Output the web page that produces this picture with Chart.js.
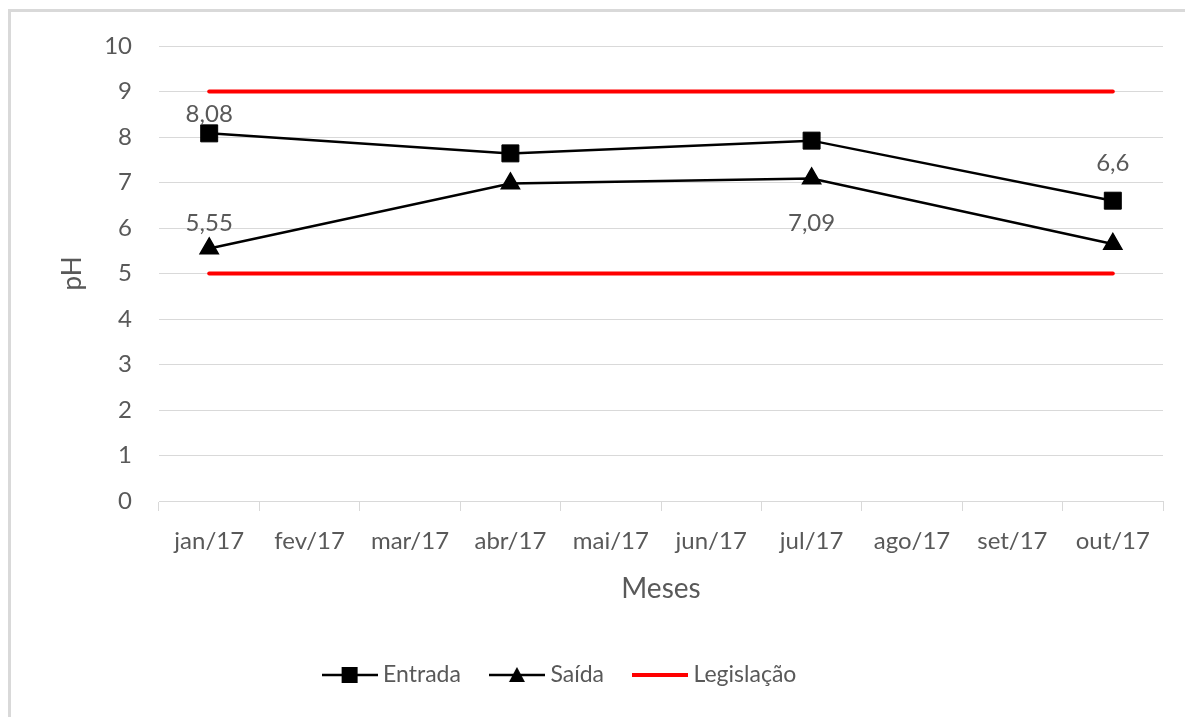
<!DOCTYPE html>
<html lang="pt">
<head>
<meta charset="utf-8">
<title>pH – Entrada e Saída</title>
<script src="https://cdn.jsdelivr.net/npm/chart.js@4.4.1/dist/chart.umd.min.js"></script>
<style>
  html, body { margin: 0; padding: 0; background: #fff; overflow: hidden; }
  #wrap { position: absolute; left: 0; top: 0; width: 1185px; height: 717px; }
  #frame { position: absolute; left: 8px; top: 9px; width: 1400px; height: 1000px;
           border: 3px solid #d9d9d9; box-sizing: border-box; pointer-events: none; }
</style>
</head>
<body>
<div id="wrap"><canvas id="chart"></canvas></div>
<div id="frame"></div>
<script>
// Meses de amostragem
const meses = ['jan/17', 'fev/17', 'mar/17', 'abr/17', 'mai/17', 'jun/17', 'jul/17', 'ago/17', 'set/17', 'out/17'];

// pH medido (null = mês sem coleta)
const entrada = [8.08, null, null, 7.64, null, null, 7.92, null, null, 6.6];
const saida   = [5.55, null, null, 6.98, null, null, 7.09, null, null, 5.65];

// Limites da legislação
const legislacaoMax = [9, 9, 9, 9, 9, 9, 9, 9, 9, 9];
const legislacaoMin = [5, 5, 5, 5, 5, 5, 5, 5, 5, 5];

// Eixo Y
const yTicks = [0, 1, 2, 3, 4, 5, 6, 7, 8, 9, 10];

const FONT = 'Lato, "Open Sans", sans-serif';
const TXT = '#595959';
const GRID = '#d9d9d9';

// Ícones da legenda: linha com marcador
function legendIcon(kind) {
  const c = document.createElement('canvas');
  c.width = 56; c.height = 22;
  const g = c.getContext('2d');
  const cy = 11;
  g.lineWidth = kind === 'red' ? 4 : 2.5;
  g.strokeStyle = kind === 'red' ? '#ff0000' : '#000';
  g.beginPath(); g.moveTo(0, cy); g.lineTo(56, cy); g.stroke();
  g.fillStyle = '#000';
  if (kind === 'square') {
    g.fillRect(28 - 8, cy - 8, 16, 16);
  } else if (kind === 'triangle') {
    g.beginPath();
    g.moveTo(28, cy - 8); g.lineTo(36, cy + 7); g.lineTo(20, cy + 7);
    g.closePath(); g.fill();
  }
  return c;
}
const icons = [legendIcon('square'), legendIcon('triangle'), legendIcon('red')];

// Rótulos de valor sobre pontos selecionados
const valueLabels = {
  id: 'valueLabels',
  afterDatasetsDraw(chart, args, opts) {
    const ctx = chart.ctx;
    ctx.save();
    ctx.font = opts.font;
    ctx.fillStyle = opts.color;
    ctx.textAlign = 'center';
    ctx.textBaseline = 'middle';
    for (const it of opts.items) {
      const meta = chart.getDatasetMeta(it.ds);
      const el = meta.data[it.i];
      const v = chart.data.datasets[it.ds].data[it.i];
      const txt = String(v).replace('.', ',');
      ctx.fillText(txt, el.x, el.y + it.dy);
    }
    ctx.restore();
  }
};

// Desloca a legenda horizontalmente depois do layout
const legendShift = {
  id: 'legendShift',
  afterLayout(chart, args, opts) {
    const lg = chart.legend;
    if (lg) { lg.left += opts.dx; lg.right += opts.dx; }
  }
};

new Chart(document.getElementById('chart'), {
  type: 'line',
  data: {
    labels: meses,
    datasets: [
      {
        label: 'Entrada', data: entrada, spanGaps: true,
        borderColor: '#000', borderWidth: 2.5, backgroundColor: '#000',
        pointStyle: 'rect', pointRadius: 12, pointBorderWidth: 1, pointBackgroundColor: '#000', pointBorderColor: '#000'
      },
      {
        label: 'Saída', data: saida, spanGaps: true,
        borderColor: '#000', borderWidth: 2.5, backgroundColor: '#000',
        pointStyle: 'triangle', pointRadius: 10.5, pointBorderWidth: 1.5, pointBackgroundColor: '#000', pointBorderColor: '#000'
      },
      {
        label: 'Legislação', data: legislacaoMax,
        borderColor: '#ff0000', borderWidth: 4, pointRadius: 0, borderCapStyle: 'round'
      },
      {
        label: 'Legislação', data: legislacaoMin,
        borderColor: '#ff0000', borderWidth: 4, pointRadius: 0, borderCapStyle: 'round'
      }
    ]
  },
  plugins: [valueLabels, legendShift],
  options: {
    responsive: true,
    maintainAspectRatio: false,
    animation: false,
    layout: { padding: { left: 57, right: 22, top: 46, bottom: 20.5 } },
    scales: {
      x: {
        offset: true,
        grid: { offset: true, drawOnChartArea: false, drawTicks: true, tickLength: 10, color: GRID, lineWidth: 1 },
        border: { display: true, color: GRID, width: 1 },
        ticks: { color: TXT, font: { family: FONT, size: 24 }, padding: 16, maxRotation: 0, autoSkip: false },
        title: { display: true, text: 'Meses', color: TXT, font: { family: FONT, size: 28 }, padding: { top: 0, bottom: 24 } },
        afterFit(scale) { scale.height = 128.5; }
      },
      y: {
        min: 0, max: 10,
        afterBuildTicks(scale) { scale.ticks = yTicks.map(v => ({ value: v })); },
        grid: { color: GRID, lineWidth: 1, drawTicks: false },
        border: { display: false },
        ticks: { color: TXT, font: { family: FONT, size: 24 }, padding: 27 },
        title: { display: true, text: 'pH', color: TXT, font: { family: FONT, size: 26 }, padding: { top: 0, bottom: 0 } },
        afterFit(scale) { scale.width = 102; }
      }
    },
    plugins: {
      tooltip: { enabled: false },
      legendShift: { dx: -48 },
      legend: {
        position: 'bottom',
        labels: {
          color: TXT,
          font: { family: FONT, size: 23 },
          usePointStyle: true,
          pointStyleWidth: 44,
          padding: 34,
          generateLabels(chart) {
            const base = Chart.defaults.plugins.legend.labels.generateLabels(chart);
            return base.filter(l => l.datasetIndex < 3).map((l, k) => {
              l.pointStyle = icons[k];
              return l;
            });
          }
        }
      },
      valueLabels: {
        font: '24px ' + FONT,
        color: TXT,
        items: [
          { ds: 0, i: 0, dy: -19 },
          { ds: 1, i: 0, dy: -25 },
          { ds: 1, i: 6, dy: 45 },
          { ds: 0, i: 9, dy: -37 }
        ]
      }
    }
  }
});
</script>
</body>
</html>
